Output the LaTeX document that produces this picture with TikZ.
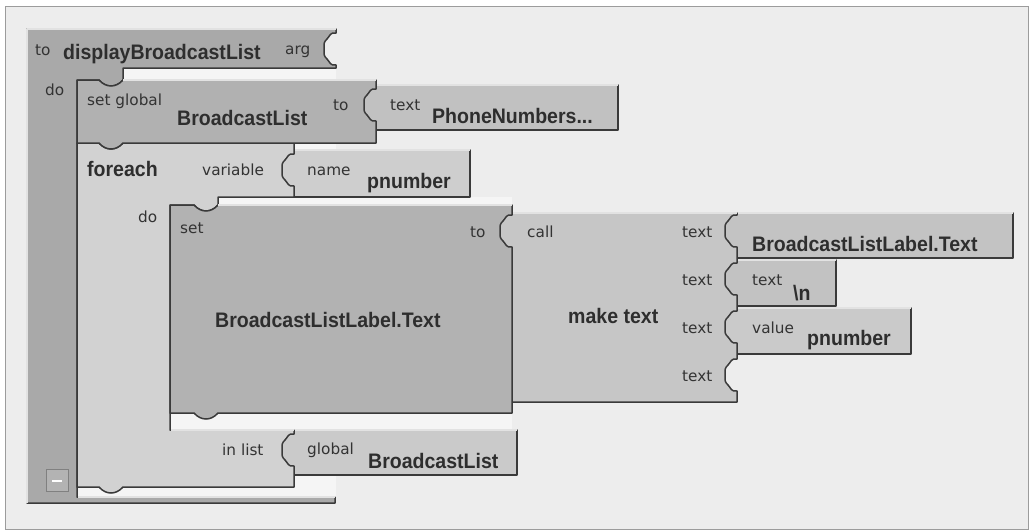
\documentclass[tikz,border=0pt]{standalone}
\usepackage{fontspec}
\newfontfamily\bfnt[FakeStretch=0.93]{Liberation Sans}
\newfontfamily\sfnt{DejaVu Sans}
\definecolor{bgc}{HTML}{EDEDED}
\definecolor{framec}{HTML}{9C9C9C}
\definecolor{stripc}{HTML}{F5F5F5}
\definecolor{procc}{HTML}{A9A9A9}
\definecolor{sgc}{HTML}{B1B1B1}
\definecolor{textc}{HTML}{C1C1C1}
\definecolor{forc}{HTML}{D2D2D2}
\definecolor{namec}{HTML}{CECECE}
\definecolor{setc}{HTML}{B2B2B2}
\definecolor{mkc}{HTML}{C6C6C6}
\definecolor{getc}{HTML}{C3C3C3}
\definecolor{tnc}{HTML}{C2C2C2}
\definecolor{valc}{HTML}{CACACA}
\definecolor{globc}{HTML}{CACACA}
\definecolor{edgec}{HTML}{3A3A3A}
\definecolor{hic}{HTML}{E2E2E2}
\definecolor{lblc}{HTML}{333333}
\definecolor{bigc}{HTML}{2E2E2E}
\definecolor{minb}{HTML}{808080}
\definecolor{minf}{HTML}{B3B3B3}
\tikzset{
  sock/.style 2 args={insert path={-- (#1,#2) .. controls (#1-6,#2-1) and (#1-6,#2+3) .. (#1-9,#2+6) .. controls (#1-12,#2+9) and (#1-12,#2+10) .. (#1-12,#2+14) -- (#1-12,#2+18) .. controls (#1-12,#2+22) and (#1-12,#2+23) .. (#1-9,#2+26) .. controls (#1-6,#2+29) and (#1-6,#2+33) .. (#1,#2+32)}},
  btab/.style 2 args={insert path={-- (#1+24,#2) .. controls (#1+17,#2+8) and (#1+7,#2+8) .. (#1,#2)}},
  tnotch/.style 2 args={insert path={-- (#1,#2) .. controls (#1+7,#2+8) and (#1+17,#2+8) .. (#1+24,#2)}},
  blk/.style={draw=edgec, line width=1.5pt, line join=round},
  hi/.style={draw=hic, line width=1.5pt, line cap=butt},
  lbl/.style={anchor=base west, inner sep=0pt, text=lblc, font=\sfnt\fontsize{15.3}{18}\selectfont},
  big/.style={anchor=base west, inner sep=0pt, text=bigc, font=\bfnt\bfseries\fontsize{21}{25}\selectfont},
}
\begin{document}
\begin{tikzpicture}[x=1pt,y=-1pt]
\useasboundingbox (0,0) rectangle (1030,531);
% frame
\fill[white] (0,0) rectangle (1030,531);
\path[draw=framec, fill=bgc, line width=1pt] (5,6) rectangle (1028,529);
% slot interiors
\fill[stripc] (77,68) rectangle (336,497);
\fill[stripc] (170,197) rectangle (512,430);
% procedure
\path[blk, fill=procc] (27,29) -- (336,29) [sock={336}{33}] -- (336,68) -- (123,68) -- (123,80) [btab={99}{80}] -- (77,80) -- (77,497) -- (335,497) -- (335,503) -- (27,503) -- cycle;
\draw[hi] (27,29) -- (336,29);
\draw[hi] (27,29) -- (27,503);
\draw[hi] (78,497) -- (335,497);
% foreach children
\path[blk, fill=globc] (280,430) rectangle (517,475);
\draw[hi] (294,430) -- (517,430);
\path[blk, fill=namec] (281,150) rectangle (470,197);
\draw[hi] (294,150) -- (470,150);
% foreach
\path[blk, fill=forc] (77,143) [tnotch={99}{143}] -- (294,143) [sock={294}{154}] -- (294,197) -- (218,197) -- (218,205) [btab={194}{205}] -- (170,205) -- (170,430) -- (294,430) [sock={294}{434}] -- (294,487) [btab={99}{487}] -- (77,487) -- cycle;
\draw[hi] (171,430) -- (294,430);
% set global
\path[blk, fill=textc] (363,85) rectangle (618,130);
\draw[hi] (376,85) -- (618,85);
\path[blk, fill=sgc] (77,80) [tnotch={99}{80}] -- (376,80) [sock={376}{89}] -- (376,143) [btab={99}{143}] -- (77,143) -- cycle;
\draw[hi] (123,80) -- (376,80);
% make text children
\path[blk, fill=getc] (724,213) rectangle (1013,258);
\draw[hi] (737,213) -- (1013,213);
\path[blk, fill=tnc] (724,260) rectangle (836,306);
\draw[hi] (737,260) -- (836,260);
\path[blk, fill=valc] (724,308) rectangle (911,354);
\draw[hi] (737,308) -- (911,308);
% make text
\path[blk, fill=mkc] (499,213) -- (737,213) [sock={737}{215}] [sock={737}{263}] [sock={737}{311}] [sock={737}{359}] -- (737,402) -- (499,402) -- cycle;
\draw[hi] (512,213) -- (737,213);
% set block
\path[blk, fill=setc] (170,205) [tnotch={194}{205}] -- (512,205) [sock={512}{215}] -- (512,413) [btab={194}{413}] -- (170,413) -- cycle;
\draw[hi] (218,205) -- (512,205);
% collapse box
\path[draw=minb, fill=minf, line width=1pt] (46,469) rectangle (68,491);
\draw[white, line width=1.5pt] (52,481) -- (62,481);
% labels
\node[lbl] (t1) at (35,55) {to};
\node[big] (dbl) at (63,59) {displayBroadcastList};
\node[lbl] (arg) at (285,54) {arg};
\node[lbl] (do1) at (45,95) {do};
\node[lbl] (sg) at (87,105) {set global};
\node[big] (bl1) at (177,125) {BroadcastList};
\node[lbl] (to2) at (333,110) {to};
\node[lbl] (tx1) at (390,110) {text};
\node[big] (pn) at (432,123) {PhoneNumbers...};
\node[big] (fe) at (87,176) {foreach};
\node[lbl] (var) at (202,175) {variable};
\node[lbl] (nm) at (307,175) {name};
\node[big] (pn1) at (367,188) {pnumber};
\node[lbl] (do2) at (138,222) {do};
\node[lbl] (st) at (180,233) {set};
\node[big] (lbl1) at (215,327) {BroadcastListLabel.Text};
\node[lbl] (to3) at (470,237) {to};
\node[lbl] (call) at (527,237) {call};
\node[big] (mt) at (568,323) {make text};
\node[lbl] (tA) at (682,237) {text};
\node[lbl] (tB) at (682,285) {text};
\node[lbl] (tC) at (682,333) {text};
\node[lbl] (tD) at (682,381) {text};
\node[big] (lbl2) at (752,251) {BroadcastListLabel.Text};
\node[lbl] (tx2) at (752,285) {text};
\node[big] (nl) at (793,300) {\textbackslash n};
\node[lbl] (val) at (752,333) {value};
\node[big] (pn2) at (807,345) {pnumber};
\node[lbl] (inl) at (222,455) {in list};
\node[lbl] (glb) at (307,454) {global};
\node[big] (bl2) at (368,468) {BroadcastList};
\end{tikzpicture}
\end{document}
